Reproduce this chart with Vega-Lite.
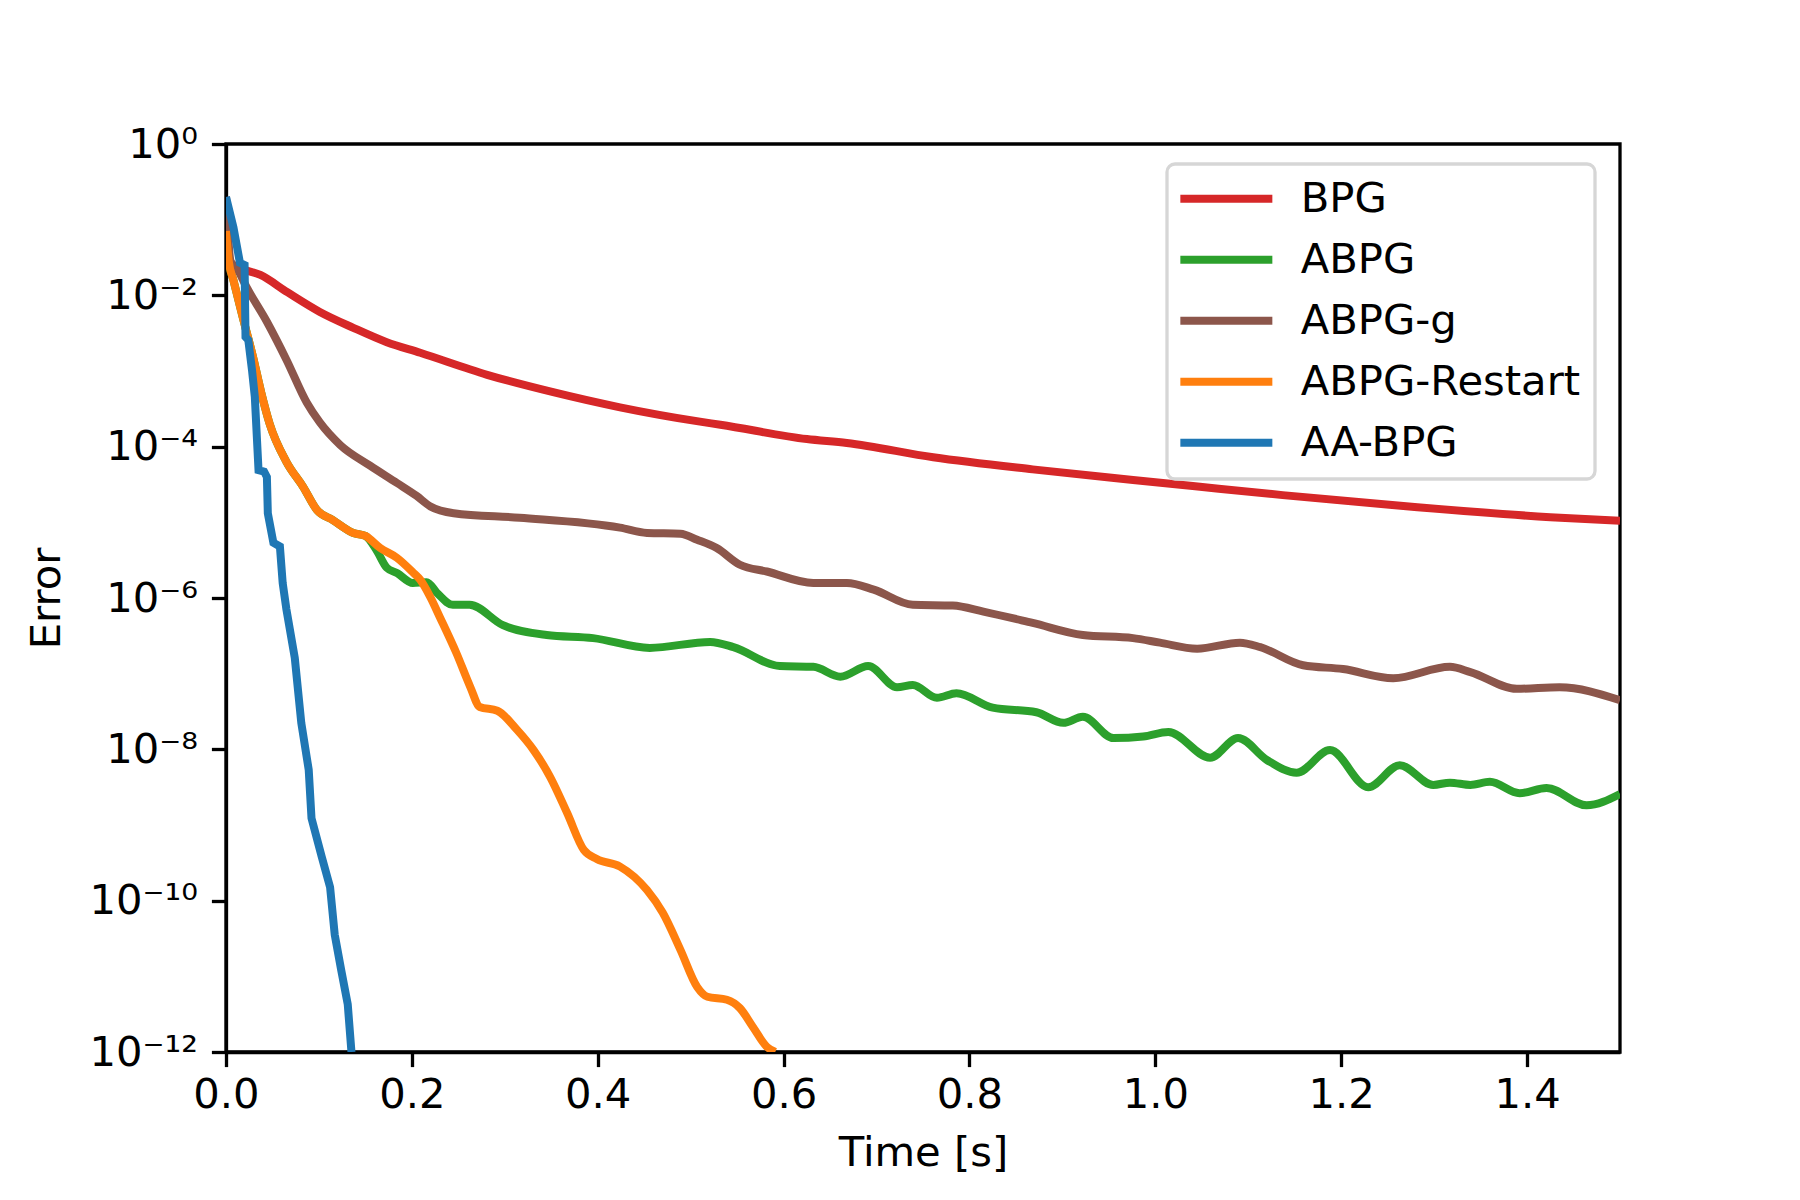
{
  "$schema": "https://vega.github.io/schema/vega-lite/v6.json",
  "width": 1394,
  "height": 908,
  "autosize": {"type": "none"},
  "padding": {"left": 226, "top": 144, "right": 180, "bottom": 148},
  "background": "white",
  "config": {
    "font": "DejaVu Sans",
    "view": {"stroke": "black", "strokeWidth": 3.3},
    "axis": {
      "grid": false,
      "domainColor": "black",
      "domainWidth": 3.3,
      "tickColor": "black",
      "tickWidth": 3.3,
      "tickSize": 14.6,
      "labelFont": "DejaVu Sans",
      "labelFontSize": 41.7,
      "labelColor": "black",
      "titleFont": "DejaVu Sans",
      "titleFontSize": 41.7,
      "titleFontWeight": "normal",
      "titleColor": "black"
    },
    "legend": {
      "labelFont": "DejaVu Sans",
      "labelFontSize": 41.7,
      "labelColor": "black",
      "strokeWidth": 3.3
    }
  },
  "datasets": {
    "main": [
      {"s": "BPG", "t": 0, "e": 0.2},
      {"s": "BPG", "t": 0.003, "e": 0.0275},
      {"s": "BPG", "t": 0.015, "e": 0.0229},
      {"s": "BPG", "t": 0.037, "e": 0.0186},
      {"s": "BPG", "t": 0.066, "e": 0.011},
      {"s": "BPG", "t": 0.101, "e": 0.00603},
      {"s": "BPG", "t": 0.137, "e": 0.00372},
      {"s": "BPG", "t": 0.173, "e": 0.0024},
      {"s": "BPG", "t": 0.209, "e": 0.00174},
      {"s": "BPG", "t": 0.281, "e": 0.000891},
      {"s": "BPG", "t": 0.352, "e": 0.000525},
      {"s": "BPG", "t": 0.424, "e": 0.000331},
      {"s": "BPG", "t": 0.51, "e": 0.000214},
      {"s": "BPG", "t": 0.532, "e": 0.000195},
      {"s": "BPG", "t": 0.625, "e": 0.000126},
      {"s": "BPG", "t": 0.668, "e": 0.000112},
      {"s": "BPG", "t": 0.761, "e": 7.24e-5},
      {"s": "BPG", "t": 0.868, "e": 5.01e-5},
      {"s": "BPG", "t": 0.976, "e": 3.63e-5},
      {"s": "BPG", "t": 1.048, "e": 2.95e-5},
      {"s": "BPG", "t": 1.137, "e": 2.29e-5},
      {"s": "BPG", "t": 1.282, "e": 1.58e-5},
      {"s": "BPG", "t": 1.425, "e": 1.17e-5},
      {"s": "BPG", "t": 1.5, "e": 1.05e-5},

      {"s": "ABPG", "t": 0, "e": 0.0708},
      {"s": "ABPG", "t": 0.003, "e": 0.0282},
      {"s": "ABPG", "t": 0.008, "e": 0.0158},
      {"s": "ABPG", "t": 0.018, "e": 0.00513},
      {"s": "ABPG", "t": 0.029, "e": 0.00155},
      {"s": "ABPG", "t": 0.038, "e": 0.000513},
      {"s": "ABPG", "t": 0.047, "e": 0.0002},
      {"s": "ABPG", "t": 0.065, "e": 6.31e-5},
      {"s": "ABPG", "t": 0.083, "e": 2.95e-5},
      {"s": "ABPG", "t": 0.098, "e": 1.45e-5},
      {"s": "ABPG", "t": 0.115, "e": 1.07e-5},
      {"s": "ABPG", "t": 0.137, "e": 7.24e-6},
      {"s": "ABPG", "t": 0.15, "e": 6.61e-6},
      {"s": "ABPG", "t": 0.162, "e": 4.27e-6},
      {"s": "ABPG", "t": 0.173, "e": 2.51e-6},
      {"s": "ABPG", "t": 0.184, "e": 2.14e-6},
      {"s": "ABPG", "t": 0.201, "e": 1.58e-6},
      {"s": "ABPG", "t": 0.216, "e": 1.62e-6},
      {"s": "ABPG", "t": 0.227, "e": 1.17e-6},
      {"s": "ABPG", "t": 0.244, "e": 8.13e-7},
      {"s": "ABPG", "t": 0.262, "e": 8.13e-7},
      {"s": "ABPG", "t": 0.298, "e": 4.37e-7},
      {"s": "ABPG", "t": 0.345, "e": 3.24e-7},
      {"s": "ABPG", "t": 0.395, "e": 2.95e-7},
      {"s": "ABPG", "t": 0.456, "e": 2.19e-7},
      {"s": "ABPG", "t": 0.521, "e": 2.63e-7},
      {"s": "ABPG", "t": 0.546, "e": 2.24e-7},
      {"s": "ABPG", "t": 0.596, "e": 1.26e-7},
      {"s": "ABPG", "t": 0.632, "e": 1.23e-7},
      {"s": "ABPG", "t": 0.661, "e": 9.12e-8},
      {"s": "ABPG", "t": 0.691, "e": 1.26e-7},
      {"s": "ABPG", "t": 0.722, "e": 6.61e-8},
      {"s": "ABPG", "t": 0.739, "e": 7.08e-8},
      {"s": "ABPG", "t": 0.765, "e": 4.79e-8},
      {"s": "ABPG", "t": 0.786, "e": 5.5e-8},
      {"s": "ABPG", "t": 0.825, "e": 3.55e-8},
      {"s": "ABPG", "t": 0.872, "e": 3.09e-8},
      {"s": "ABPG", "t": 0.901, "e": 2.24e-8},
      {"s": "ABPG", "t": 0.922, "e": 2.69e-8},
      {"s": "ABPG", "t": 0.955, "e": 1.41e-8},
      {"s": "ABPG", "t": 0.987, "e": 1.48e-8},
      {"s": "ABPG", "t": 1.014, "e": 1.7e-8},
      {"s": "ABPG", "t": 1.059, "e": 7.76e-9},
      {"s": "ABPG", "t": 1.089, "e": 1.41e-8},
      {"s": "ABPG", "t": 1.12, "e": 7.24e-9},
      {"s": "ABPG", "t": 1.152, "e": 4.9e-9},
      {"s": "ABPG", "t": 1.188, "e": 9.77e-9},
      {"s": "ABPG", "t": 1.229, "e": 3.16e-9},
      {"s": "ABPG", "t": 1.263, "e": 6.17e-9},
      {"s": "ABPG", "t": 1.299, "e": 3.39e-9},
      {"s": "ABPG", "t": 1.317, "e": 3.63e-9},
      {"s": "ABPG", "t": 1.339, "e": 3.39e-9},
      {"s": "ABPG", "t": 1.36, "e": 3.72e-9},
      {"s": "ABPG", "t": 1.392, "e": 2.63e-9},
      {"s": "ABPG", "t": 1.421, "e": 3.09e-9},
      {"s": "ABPG", "t": 1.464, "e": 1.82e-9},
      {"s": "ABPG", "t": 1.5, "e": 2.57e-9},

      {"s": "ABPG-g", "t": 0, "e": 0.2},
      {"s": "ABPG-g", "t": 0.005, "e": 0.0282},
      {"s": "ABPG-g", "t": 0.012, "e": 0.0224},
      {"s": "ABPG-g", "t": 0.022, "e": 0.0129},
      {"s": "ABPG-g", "t": 0.044, "e": 0.00447},
      {"s": "ABPG-g", "t": 0.065, "e": 0.00141},
      {"s": "ABPG-g", "t": 0.087, "e": 0.00038},
      {"s": "ABPG-g", "t": 0.101, "e": 0.000209},
      {"s": "ABPG-g", "t": 0.123, "e": 0.000105},
      {"s": "ABPG-g", "t": 0.155, "e": 5.62e-5},
      {"s": "ABPG-g", "t": 0.184, "e": 3.31e-5},
      {"s": "ABPG-g", "t": 0.205, "e": 2.24e-5},
      {"s": "ABPG-g", "t": 0.22, "e": 1.62e-5},
      {"s": "ABPG-g", "t": 0.245, "e": 1.32e-5},
      {"s": "ABPG-g", "t": 0.316, "e": 1.15e-5},
      {"s": "ABPG-g", "t": 0.424, "e": 8.51e-6},
      {"s": "ABPG-g", "t": 0.453, "e": 7.24e-6},
      {"s": "ABPG-g", "t": 0.489, "e": 7.08e-6},
      {"s": "ABPG-g", "t": 0.507, "e": 5.89e-6},
      {"s": "ABPG-g", "t": 0.528, "e": 4.57e-6},
      {"s": "ABPG-g", "t": 0.553, "e": 2.75e-6},
      {"s": "ABPG-g", "t": 0.582, "e": 2.24e-6},
      {"s": "ABPG-g", "t": 0.632, "e": 1.58e-6},
      {"s": "ABPG-g", "t": 0.668, "e": 1.58e-6},
      {"s": "ABPG-g", "t": 0.697, "e": 1.29e-6},
      {"s": "ABPG-g", "t": 0.739, "e": 8.13e-7},
      {"s": "ABPG-g", "t": 0.782, "e": 7.94e-7},
      {"s": "ABPG-g", "t": 0.815, "e": 6.61e-7},
      {"s": "ABPG-g", "t": 0.868, "e": 4.68e-7},
      {"s": "ABPG-g", "t": 0.922, "e": 3.24e-7},
      {"s": "ABPG-g", "t": 0.976, "e": 2.95e-7},
      {"s": "ABPG-g", "t": 1.005, "e": 2.57e-7},
      {"s": "ABPG-g", "t": 1.045, "e": 2.14e-7},
      {"s": "ABPG-g", "t": 1.091, "e": 2.57e-7},
      {"s": "ABPG-g", "t": 1.113, "e": 2.24e-7},
      {"s": "ABPG-g", "t": 1.159, "e": 1.29e-7},
      {"s": "ABPG-g", "t": 1.202, "e": 1.15e-7},
      {"s": "ABPG-g", "t": 1.256, "e": 8.71e-8},
      {"s": "ABPG-g", "t": 1.317, "e": 1.23e-7},
      {"s": "ABPG-g", "t": 1.339, "e": 1.05e-7},
      {"s": "ABPG-g", "t": 1.389, "e": 6.31e-8},
      {"s": "ABPG-g", "t": 1.435, "e": 6.61e-8},
      {"s": "ABPG-g", "t": 1.5, "e": 4.47e-8},

      {"s": "ABPG-Restart", "t": 0, "e": 0.0708},
      {"s": "ABPG-Restart", "t": 0.003, "e": 0.0282},
      {"s": "ABPG-Restart", "t": 0.008, "e": 0.0158},
      {"s": "ABPG-Restart", "t": 0.018, "e": 0.00513},
      {"s": "ABPG-Restart", "t": 0.029, "e": 0.00155},
      {"s": "ABPG-Restart", "t": 0.038, "e": 0.000513},
      {"s": "ABPG-Restart", "t": 0.047, "e": 0.0002},
      {"s": "ABPG-Restart", "t": 0.065, "e": 6.31e-5},
      {"s": "ABPG-Restart", "t": 0.083, "e": 2.95e-5},
      {"s": "ABPG-Restart", "t": 0.098, "e": 1.45e-5},
      {"s": "ABPG-Restart", "t": 0.115, "e": 1.07e-5},
      {"s": "ABPG-Restart", "t": 0.137, "e": 7.24e-6},
      {"s": "ABPG-Restart", "t": 0.15, "e": 6.61e-6},
      {"s": "ABPG-Restart", "t": 0.166, "e": 4.57e-6},
      {"s": "ABPG-Restart", "t": 0.184, "e": 3.39e-6},
      {"s": "ABPG-Restart", "t": 0.201, "e": 2.19e-6},
      {"s": "ABPG-Restart", "t": 0.209, "e": 1.74e-6},
      {"s": "ABPG-Restart", "t": 0.22, "e": 1.02e-6},
      {"s": "ABPG-Restart", "t": 0.23, "e": 5.62e-7},
      {"s": "ABPG-Restart", "t": 0.248, "e": 1.86e-7},
      {"s": "ABPG-Restart", "t": 0.263, "e": 6.61e-8},
      {"s": "ABPG-Restart", "t": 0.273, "e": 3.63e-8},
      {"s": "ABPG-Restart", "t": 0.292, "e": 3.24e-8},
      {"s": "ABPG-Restart", "t": 0.313, "e": 1.82e-8},
      {"s": "ABPG-Restart", "t": 0.331, "e": 9.77e-9},
      {"s": "ABPG-Restart", "t": 0.349, "e": 4.27e-9},
      {"s": "ABPG-Restart", "t": 0.367, "e": 1.45e-9},
      {"s": "ABPG-Restart", "t": 0.385, "e": 4.68e-10},
      {"s": "ABPG-Restart", "t": 0.399, "e": 3.55e-10},
      {"s": "ABPG-Restart", "t": 0.424, "e": 2.82e-10},
      {"s": "ABPG-Restart", "t": 0.453, "e": 1.38e-10},
      {"s": "ABPG-Restart", "t": 0.47, "e": 6.92e-11},
      {"s": "ABPG-Restart", "t": 0.489, "e": 2.24e-11},
      {"s": "ABPG-Restart", "t": 0.507, "e": 7.24e-12},
      {"s": "ABPG-Restart", "t": 0.518, "e": 5.37e-12},
      {"s": "ABPG-Restart", "t": 0.539, "e": 4.9e-12},
      {"s": "ABPG-Restart", "t": 0.553, "e": 3.8e-12},
      {"s": "ABPG-Restart", "t": 0.567, "e": 2.14e-12},
      {"s": "ABPG-Restart", "t": 0.582, "e": 1.17e-12},
      {"s": "ABPG-Restart", "t": 0.591, "e": 1.0e-12}
    ],
    "aa": [
      {"s": "AA-BPG", "t": 0, "e": 0.2},
      {"s": "AA-BPG", "t": 0.008, "e": 0.0794},
      {"s": "AA-BPG", "t": 0.015, "e": 0.0269},
      {"s": "AA-BPG", "t": 0.02, "e": 0.0251},
      {"s": "AA-BPG", "t": 0.021, "e": 0.00282},
      {"s": "AA-BPG", "t": 0.024, "e": 0.00257},
      {"s": "AA-BPG", "t": 0.028, "e": 0.00102},
      {"s": "AA-BPG", "t": 0.031, "e": 0.000457},
      {"s": "AA-BPG", "t": 0.035, "e": 4.9e-5},
      {"s": "AA-BPG", "t": 0.041, "e": 4.68e-5},
      {"s": "AA-BPG", "t": 0.044, "e": 3.98e-5},
      {"s": "AA-BPG", "t": 0.045, "e": 1.32e-5},
      {"s": "AA-BPG", "t": 0.051, "e": 5.37e-6},
      {"s": "AA-BPG", "t": 0.058, "e": 4.79e-6},
      {"s": "AA-BPG", "t": 0.061, "e": 1.58e-6},
      {"s": "AA-BPG", "t": 0.065, "e": 7.08e-7},
      {"s": "AA-BPG", "t": 0.074, "e": 1.62e-7},
      {"s": "AA-BPG", "t": 0.081, "e": 2.24e-8},
      {"s": "AA-BPG", "t": 0.089, "e": 5.37e-9},
      {"s": "AA-BPG", "t": 0.092, "e": 1.23e-9},
      {"s": "AA-BPG", "t": 0.103, "e": 3.8e-10},
      {"s": "AA-BPG", "t": 0.112, "e": 1.51e-10},
      {"s": "AA-BPG", "t": 0.117, "e": 3.55e-11},
      {"s": "AA-BPG", "t": 0.124, "e": 1.2e-11},
      {"s": "AA-BPG", "t": 0.131, "e": 4.27e-12},
      {"s": "AA-BPG", "t": 0.135, "e": 1.0e-12}
    ]
  },
  "encoding": {
    "x": {
      "field": "t",
      "type": "quantitative",
      "scale": {"domain": [0, 1.5], "nice": false, "zero": false},
      "axis": {
        "title": "Time [s]",
        "values": [0, 0.2, 0.4, 0.6, 0.8, 1.0, 1.2, 1.4],
        "format": ".1f",
        "labelPadding": 8,
        "titlePadding": 16,
        "labelFlush": false
      }
    },
    "y": {
      "field": "e",
      "type": "quantitative",
      "scale": {"type": "log", "domain": [1e-12, 1], "nice": false},
      "axis": {
        "title": "Error",
        "values": [1, 0.01, 0.0001, 1e-6, 1e-8, 1e-10, 1e-12],
        "labelExpr": "datum.value >= 0.5 ? '10⁰' : '10⁻' + replace(replace(replace(replace(replace(replace(toString(round(-log(datum.value)/LN10)),'0','⁰'),'1','¹'),'2','²'),'4','⁴'),'6','⁶'),'8','⁸')",
        "labelPadding": 14,
        "titlePadding": 20,
        "labelFlush": false
      }
    },
    "color": {
      "field": "s",
      "type": "nominal",
      "scale": {
        "domain": ["BPG", "ABPG", "ABPG-g", "ABPG-Restart", "AA-BPG"],
        "range": ["#d62728", "#2ca02c", "#8c564b", "#ff7f0e", "#1f77b4"]
      },
      "legend": {
        "orient": "none",
        "legendX": 941,
        "legendY": 20,
        "title": null,
        "symbolType": "M-1.87,0H6.13",
        "symbolSize": 529,
        "symbolStrokeWidth": 8,
        "labelOffset": 78,
        "rowPadding": 18,
        "padding": 14,
        "strokeColor": "#d6d6d6",
        "fillColor": "rgba(255,255,255,0.8)",
        "cornerRadius": 8,
        "labelLimit": 0
      }
    }
  },
  "layer": [
    {
      "data": {"name": "main"},
      "mark": {"type": "line", "strokeWidth": 8, "interpolate": "monotone", "clip": true}
    },
    {
      "data": {"name": "aa"},
      "mark": {"type": "line", "strokeWidth": 8, "clip": true}
    }
  ]
}
